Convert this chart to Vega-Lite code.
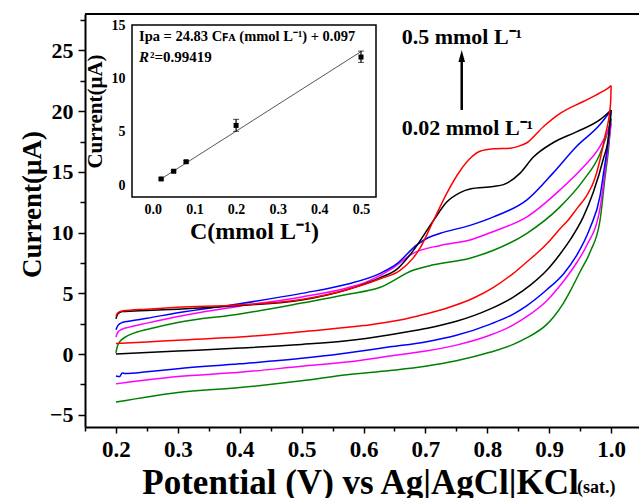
{
  "$schema": "https://vega.github.io/schema/vega-lite/v6.json",
  "width": 554,
  "height": 413,
  "autosize": {"type": "none"},
  "padding": {"left": 85, "top": 14, "right": 0, "bottom": 71},
  "background": "white",
  "config": {
    "font": "Liberation Serif",
    "view": {"stroke": null},
    "axis": {
      "labelFont": "Liberation Serif", "titleFont": "Liberation Serif",
      "labelFontWeight": "bold", "titleFontWeight": "bold",
      "labelColor": "black", "titleColor": "black", "tickColor": "black", "domainColor": "black",
      "grid": false, "labelFlush": false, "labelOverlap": false
    }
  },
  "datasets": {
    "cv": [
      {"s":"0.02","b":"f","E":0.2,"I":0.1},{"s":"0.02","b":"f","E":0.202,"I":0.6},{"s":"0.02","b":"f","E":0.206,"I":1.0},{"s":"0.02","b":"f","E":0.215,"I":1.4},{"s":"0.02","b":"f","E":0.23,"I":1.75},{"s":"0.02","b":"f","E":0.26,"I":2.15},{"s":"0.02","b":"f","E":0.3,"I":2.6},{"s":"0.02","b":"f","E":0.4,"I":3.3},{"s":"0.02","b":"f","E":0.5,"I":4.2},{"s":"0.02","b":"f","E":0.573,"I":4.9},{"s":"0.02","b":"f","E":0.627,"I":5.5},{"s":"0.02","b":"f","E":0.68,"I":6.9},{"s":"0.02","b":"f","E":0.713,"I":7.35},{"s":"0.02","b":"f","E":0.772,"I":7.9},{"s":"0.02","b":"f","E":0.81,"I":8.55},{"s":"0.02","b":"f","E":0.864,"I":9.95},{"s":"0.02","b":"f","E":0.917,"I":12.1},{"s":"0.02","b":"f","E":0.955,"I":14.3},{"s":"0.02","b":"f","E":0.982,"I":16.5},{"s":"0.02","b":"f","E":0.995,"I":18.4},{"s":"0.02","b":"f","E":1.0,"I":19.4},
      {"s":"0.02","b":"r","E":1.0,"I":19.4},{"s":"0.02","b":"r","E":0.996,"I":17.0},{"s":"0.02","b":"r","E":0.99,"I":14.5},{"s":"0.02","b":"r","E":0.982,"I":11.0},{"s":"0.02","b":"r","E":0.966,"I":8.4},{"s":"0.02","b":"r","E":0.95,"I":6.8},{"s":"0.02","b":"r","E":0.933,"I":5.1},{"s":"0.02","b":"r","E":0.923,"I":4.2},{"s":"0.02","b":"r","E":0.906,"I":3.0},{"s":"0.02","b":"r","E":0.896,"I":2.45},{"s":"0.02","b":"r","E":0.864,"I":1.35},{"s":"0.02","b":"r","E":0.842,"I":0.8},{"s":"0.02","b":"r","E":0.804,"I":0.15},{"s":"0.02","b":"r","E":0.75,"I":-0.55},{"s":"0.02","b":"r","E":0.7,"I":-1.0},{"s":"0.02","b":"r","E":0.643,"I":-1.35},{"s":"0.02","b":"r","E":0.573,"I":-1.7},{"s":"0.02","b":"r","E":0.5,"I":-2.2},{"s":"0.02","b":"r","E":0.4,"I":-2.75},{"s":"0.02","b":"r","E":0.3,"I":-3.15},{"s":"0.02","b":"r","E":0.2,"I":-3.95},

      {"s":"0.05","b":"f","E":0.2,"I":1.4},{"s":"0.05","b":"f","E":0.203,"I":1.8},{"s":"0.05","b":"f","E":0.21,"I":2.05},{"s":"0.05","b":"f","E":0.22,"I":2.2},{"s":"0.05","b":"f","E":0.25,"I":2.55},{"s":"0.05","b":"f","E":0.3,"I":3.1},{"s":"0.05","b":"f","E":0.4,"I":3.95},{"s":"0.05","b":"f","E":0.5,"I":4.7},{"s":"0.05","b":"f","E":0.573,"I":5.45},{"s":"0.05","b":"f","E":0.605,"I":5.95},{"s":"0.05","b":"f","E":0.648,"I":7.1},{"s":"0.05","b":"f","E":0.68,"I":8.3},{"s":"0.05","b":"f","E":0.724,"I":8.95},{"s":"0.05","b":"f","E":0.772,"I":9.4},{"s":"0.05","b":"f","E":0.81,"I":10.1},{"s":"0.05","b":"f","E":0.864,"I":11.3},{"s":"0.05","b":"f","E":0.917,"I":13.5},{"s":"0.05","b":"f","E":0.955,"I":15.4},{"s":"0.05","b":"f","E":0.982,"I":17.1},{"s":"0.05","b":"f","E":0.995,"I":18.4},{"s":"0.05","b":"f","E":1.0,"I":19.0},
      {"s":"0.05","b":"r","E":1.0,"I":19.0},{"s":"0.05","b":"r","E":0.995,"I":17.0},{"s":"0.05","b":"r","E":0.99,"I":15.0},{"s":"0.05","b":"r","E":0.982,"I":12.0},{"s":"0.05","b":"r","E":0.96,"I":8.9},{"s":"0.05","b":"r","E":0.944,"I":7.5},{"s":"0.05","b":"r","E":0.923,"I":6.0},{"s":"0.05","b":"r","E":0.896,"I":4.4},{"s":"0.05","b":"r","E":0.864,"I":3.1},{"s":"0.05","b":"r","E":0.842,"I":2.4},{"s":"0.05","b":"r","E":0.804,"I":1.55},{"s":"0.05","b":"r","E":0.75,"I":0.74},{"s":"0.05","b":"r","E":0.7,"I":0.25},{"s":"0.05","b":"r","E":0.643,"I":-0.16},{"s":"0.05","b":"r","E":0.573,"I":-0.65},{"s":"0.05","b":"r","E":0.5,"I":-1.0},{"s":"0.05","b":"r","E":0.4,"I":-1.5},{"s":"0.05","b":"r","E":0.3,"I":-1.85},{"s":"0.05","b":"r","E":0.2,"I":-2.45},

      {"s":"0.08","b":"f","E":0.2,"I":2.0},{"s":"0.08","b":"f","E":0.203,"I":2.35},{"s":"0.08","b":"f","E":0.21,"I":2.6},{"s":"0.08","b":"f","E":0.22,"I":2.7},{"s":"0.08","b":"f","E":0.25,"I":2.95},{"s":"0.08","b":"f","E":0.3,"I":3.4},{"s":"0.08","b":"f","E":0.4,"I":4.15},{"s":"0.08","b":"f","E":0.5,"I":5.0},{"s":"0.08","b":"f","E":0.573,"I":5.75},{"s":"0.08","b":"f","E":0.627,"I":6.65},{"s":"0.08","b":"f","E":0.653,"I":7.4},{"s":"0.08","b":"f","E":0.686,"I":9.0},{"s":"0.08","b":"f","E":0.705,"I":9.6},{"s":"0.08","b":"f","E":0.724,"I":9.95},{"s":"0.08","b":"f","E":0.772,"I":10.6},{"s":"0.08","b":"f","E":0.81,"I":11.3},{"s":"0.08","b":"f","E":0.864,"I":12.7},{"s":"0.08","b":"f","E":0.906,"I":14.9},{"s":"0.08","b":"f","E":0.944,"I":17.1},{"s":"0.08","b":"f","E":0.982,"I":18.9},{"s":"0.08","b":"f","E":1.0,"I":20.1},
      {"s":"0.08","b":"r","E":1.0,"I":20.1},{"s":"0.08","b":"r","E":0.995,"I":17.5},{"s":"0.08","b":"r","E":0.988,"I":15.0},{"s":"0.08","b":"r","E":0.982,"I":13.0},{"s":"0.08","b":"r","E":0.966,"I":10.4},{"s":"0.08","b":"r","E":0.944,"I":8.1},{"s":"0.08","b":"r","E":0.923,"I":6.6},{"s":"0.08","b":"r","E":0.896,"I":5.3},{"s":"0.08","b":"r","E":0.864,"I":4.0},{"s":"0.08","b":"r","E":0.842,"I":3.3},{"s":"0.08","b":"r","E":0.804,"I":2.45},{"s":"0.08","b":"r","E":0.75,"I":1.55},{"s":"0.08","b":"r","E":0.7,"I":1.0},{"s":"0.08","b":"r","E":0.643,"I":0.6},{"s":"0.08","b":"r","E":0.573,"I":0.1},{"s":"0.08","b":"r","E":0.5,"I":-0.35},{"s":"0.08","b":"r","E":0.4,"I":-0.8},{"s":"0.08","b":"r","E":0.3,"I":-1.2},{"s":"0.08","b":"r","E":0.25,"I":-1.45},{"s":"0.08","b":"r","E":0.215,"I":-1.6},{"s":"0.08","b":"r","E":0.21,"I":-1.55},{"s":"0.08","b":"r","E":0.206,"I":-1.85},{"s":"0.08","b":"r","E":0.2,"I":-1.8},

      {"s":"0.2","b":"f","E":0.2,"I":2.9},{"s":"0.2","b":"f","E":0.203,"I":3.3},{"s":"0.2","b":"f","E":0.21,"I":3.5},{"s":"0.2","b":"f","E":0.25,"I":3.6},{"s":"0.2","b":"f","E":0.3,"I":3.7},{"s":"0.2","b":"f","E":0.4,"I":4.0},{"s":"0.2","b":"f","E":0.5,"I":4.45},{"s":"0.2","b":"f","E":0.573,"I":5.3},{"s":"0.2","b":"f","E":0.627,"I":6.3},{"s":"0.2","b":"f","E":0.653,"I":6.95},{"s":"0.2","b":"f","E":0.68,"I":8.5},{"s":"0.2","b":"f","E":0.713,"I":11.0},{"s":"0.2","b":"f","E":0.734,"I":12.5},{"s":"0.2","b":"f","E":0.756,"I":13.3},{"s":"0.2","b":"f","E":0.772,"I":13.6},{"s":"0.2","b":"f","E":0.81,"I":13.8},{"s":"0.2","b":"f","E":0.826,"I":13.95},{"s":"0.2","b":"f","E":0.853,"I":14.9},{"s":"0.2","b":"f","E":0.874,"I":16.2},{"s":"0.2","b":"f","E":0.906,"I":17.4},{"s":"0.2","b":"f","E":0.944,"I":18.3},{"s":"0.2","b":"f","E":0.982,"I":19.3},{"s":"0.2","b":"f","E":1.0,"I":20.1},
      {"s":"0.2","b":"r","E":1.0,"I":20.1},{"s":"0.2","b":"r","E":0.996,"I":18.0},{"s":"0.2","b":"r","E":0.987,"I":16.0},{"s":"0.2","b":"r","E":0.971,"I":13.3},{"s":"0.2","b":"r","E":0.955,"I":11.3},{"s":"0.2","b":"r","E":0.935,"I":9.5},{"s":"0.2","b":"r","E":0.917,"I":8.2},{"s":"0.2","b":"r","E":0.896,"I":6.9},{"s":"0.2","b":"r","E":0.87,"I":5.7},{"s":"0.2","b":"r","E":0.842,"I":4.7},{"s":"0.2","b":"r","E":0.804,"I":3.7},{"s":"0.2","b":"r","E":0.75,"I":2.7},{"s":"0.2","b":"r","E":0.7,"I":2.1},{"s":"0.2","b":"r","E":0.643,"I":1.6},{"s":"0.2","b":"r","E":0.573,"I":1.1},{"s":"0.2","b":"r","E":0.5,"I":0.8},{"s":"0.2","b":"r","E":0.4,"I":0.5},{"s":"0.2","b":"r","E":0.3,"I":0.25},{"s":"0.2","b":"r","E":0.2,"I":0.0},

      {"s":"0.5","b":"f","E":0.2,"I":3.1},{"s":"0.5","b":"f","E":0.203,"I":3.4},{"s":"0.5","b":"f","E":0.21,"I":3.55},{"s":"0.5","b":"f","E":0.25,"I":3.7},{"s":"0.5","b":"f","E":0.3,"I":3.85},{"s":"0.5","b":"f","E":0.4,"I":4.05},{"s":"0.5","b":"f","E":0.5,"I":4.5},{"s":"0.5","b":"f","E":0.573,"I":5.3},{"s":"0.5","b":"f","E":0.627,"I":6.2},{"s":"0.5","b":"f","E":0.659,"I":6.9},{"s":"0.5","b":"f","E":0.68,"I":7.9},{"s":"0.5","b":"f","E":0.691,"I":8.7},{"s":"0.5","b":"f","E":0.713,"I":11.0},{"s":"0.5","b":"f","E":0.734,"I":13.2},{"s":"0.5","b":"f","E":0.756,"I":15.1},{"s":"0.5","b":"f","E":0.772,"I":16.1},{"s":"0.5","b":"f","E":0.788,"I":16.7},{"s":"0.5","b":"f","E":0.81,"I":16.9},{"s":"0.5","b":"f","E":0.837,"I":16.95},{"s":"0.5","b":"f","E":0.85,"I":17.1},{"s":"0.5","b":"f","E":0.864,"I":17.4},{"s":"0.5","b":"f","E":0.89,"I":18.7},{"s":"0.5","b":"f","E":0.917,"I":19.8},{"s":"0.5","b":"f","E":0.955,"I":20.8},{"s":"0.5","b":"f","E":0.982,"I":21.5},{"s":"0.5","b":"f","E":0.995,"I":21.9},{"s":"0.5","b":"f","E":1.0,"I":22.1},
      {"s":"0.5","b":"r","E":1.0,"I":22.1},{"s":"0.5","b":"r","E":0.999,"I":20.6},{"s":"0.5","b":"r","E":0.99,"I":17.9},{"s":"0.5","b":"r","E":0.982,"I":16.0},{"s":"0.5","b":"r","E":0.974,"I":14.5},{"s":"0.5","b":"r","E":0.96,"I":13.0},{"s":"0.5","b":"r","E":0.945,"I":12.0},{"s":"0.5","b":"r","E":0.93,"I":11.0},{"s":"0.5","b":"r","E":0.917,"I":10.3},{"s":"0.5","b":"r","E":0.9,"I":9.3},{"s":"0.5","b":"r","E":0.88,"I":8.3},{"s":"0.5","b":"r","E":0.864,"I":7.6},{"s":"0.5","b":"r","E":0.842,"I":6.65},{"s":"0.5","b":"r","E":0.81,"I":5.5},{"s":"0.5","b":"r","E":0.777,"I":4.6},{"s":"0.5","b":"r","E":0.735,"I":3.8},{"s":"0.5","b":"r","E":0.7,"I":3.3},{"s":"0.5","b":"r","E":0.659,"I":2.8},{"s":"0.5","b":"r","E":0.6,"I":2.35},{"s":"0.5","b":"r","E":0.5,"I":1.85},{"s":"0.5","b":"r","E":0.4,"I":1.4},{"s":"0.5","b":"r","E":0.3,"I":1.15},{"s":"0.5","b":"r","E":0.25,"I":1.0},{"s":"0.5","b":"r","E":0.2,"I":0.88}
    ],
    "cal": [
      {"c":0.02,"I":0.59,"lo":0.5,"hi":0.68},
      {"c":0.05,"I":1.31,"lo":1.22,"hi":1.4},
      {"c":0.08,"I":2.2,"lo":2.1,"hi":2.3},
      {"c":0.2,"I":5.6,"lo":5.05,"hi":6.17},
      {"c":0.5,"I":12.0,"lo":11.5,"hi":12.56}
    ],
    "fit": [
      {"c":0.02,"I":0.594},
      {"c":0.5,"I":12.512}
    ]
  },
  "layer": [
    {
      "layer": [
        {
          "data": {"name": "cv"},
          "mark": {"type": "line", "strokeWidth": 1.5, "interpolate": "monotone"},
          "encoding": {
            "x": {"field": "E", "type": "quantitative",
              "scale": {"domain": [0.15, 1.045], "nice": false, "zero": false},
              "axis": {"orient": "bottom", "values": [0.2,0.3,0.4,0.5,0.6,0.7,0.8,0.9,1.0], "format": ".1f",
                "domainWidth": 2, "tickSize": 6, "tickWidth": 1.5, "labelFontSize": 23, "labelPadding": 5,
                "title": "Potential (V) vs Ag|AgCl|KCl", "titleFontSize": 35, "titleBaseline": "alphabetic", "titleY": 66, "titleX": 275}},
            "y": {"field": "I", "type": "quantitative",
              "scale": {"domain": [-6, 28], "nice": false, "zero": false},
              "axis": {"orient": "left", "values": [-5,0,5,10,15,20,25],
                "domainWidth": 2, "tickSize": 7, "tickWidth": 1.5, "labelFontSize": 22, "labelPadding": 5,
                "title": "Current(μA)", "titleFontSize": 27, "titleAngle": 270, "titleBaseline": "middle", "titleX": -53, "titleY": 190}},
            "color": {"field": "s", "type": "nominal",
              "scale": {"domain": ["0.02","0.05","0.08","0.2","0.5"], "range": ["#008000","#FF00FF","#0000FF","#000000","#FF0000"]},
              "legend": null},
            "detail": {"field": "b"}
          }
        },
        {
          "data": {"values": [{}]},
          "mark": {"type": "point", "opacity": 0},
          "encoding": {
            "x": {"datum": 0.5, "type": "quantitative",
              "axis": {"orient": "bottom", "values": [0.15,0.25,0.35,0.45,0.55,0.65,0.75,0.85,0.95], "labels": false, "domain": false, "tickSize": 4, "tickWidth": 1.5, "title": null}},
            "y": {"datum": 5, "type": "quantitative",
              "axis": {"orient": "left", "values": [-2.5,2.5,7.5,12.5,17.5,22.5,27.5], "labels": false, "domain": false, "tickSize": 5, "tickWidth": 1.5, "title": null}}
          }
        },
        {
          "data": {"values": [{}]},
          "mark": {"type": "rule", "strokeWidth": 2, "color": "black"},
          "encoding": {"x": {"datum": 0.15, "axis": null}, "x2": {"datum": 1.045}, "y": {"datum": 28, "axis": null}}
        },
        {
          "data": {"values": [{}]},
          "mark": {"type": "rule", "strokeWidth": 2.5, "color": "black"},
          "encoding": {"x": {"datum": 0.7586, "axis": null}, "y": {"datum": 20.1, "axis": null}, "y2": {"datum": 24.3}}
        },
        {
          "data": {"values": [{}]},
          "mark": {"type": "point", "shape": "M0,-1L0.55,1L-0.55,1Z", "filled": true, "color": "black", "opacity": 1, "size": 144},
          "encoding": {"x": {"datum": 0.7586, "axis": null}, "y": {"datum": 24.55, "axis": null}}
        },
        {
          "data": {"values": [{}]},
          "mark": {"type": "text", "text": "0.5 mmol L⁻¹", "font": "Liberation Serif", "fontWeight": "bold", "fontSize": 22, "align": "left", "baseline": "alphabetic", "color": "black"},
          "encoding": {"x": {"datum": 0.6616, "axis": null}, "y": {"datum": 25.57, "axis": null}}
        },
        {
          "data": {"values": [{}]},
          "mark": {"type": "text", "text": "0.02 mmol L⁻¹", "font": "Liberation Serif", "fontWeight": "bold", "fontSize": 22, "align": "left", "baseline": "alphabetic", "color": "black"},
          "encoding": {"x": {"datum": 0.6616, "axis": null}, "y": {"datum": 18.02, "axis": null}}
        },
        {
          "data": {"values": [{}]},
          "mark": {"type": "text", "text": "(sat.)", "font": "Liberation Serif", "fontWeight": "bold", "fontSize": 18, "align": "left", "baseline": "alphabetic", "color": "black", "clip": false},
          "encoding": {"x": {"datum": 0.945, "axis": null}, "y": {"datum": -11.45, "axis": null}}
        }
      ],
      "resolve": {"axis": {"x": "independent", "y": "independent"}}
    },
    {
      "layer": [
        {
          "data": {"values": [{}]},
          "mark": {"type": "rect", "fill": "white", "stroke": "black", "strokeWidth": 1.5},
          "encoding": {
            "x": {"datum": -0.05, "type": "quantitative",
              "scale": {"domain": [-0.05, 0.536], "range": [47, 291], "nice": false, "zero": false},
              "axis": {"orient": "bottom", "offset": -230, "values": [0,0.1,0.2,0.3,0.4,0.5], "format": ".1f",
                "domain": false, "ticks": false, "labelFontSize": 14, "labelPadding": 5,
                "title": "C(mmol L⁻¹)", "titleFontSize": 24, "titlePadding": 3}},
            "x2": {"datum": 0.536},
            "y": {"datum": -1.1, "type": "quantitative",
              "scale": {"domain": [-1.1, 15], "range": [183, 11], "nice": false, "zero": false},
              "axis": {"orient": "left", "offset": -47, "values": [0,5,10,15],
                "domain": false, "ticks": false, "labelFontSize": 14, "labelPadding": 7,
                "title": "Current(μA)", "titleFontSize": 21, "titlePadding": 6}},
            "y2": {"datum": 15}
          }
        },
        {
          "data": {"name": "fit"},
          "mark": {"type": "line", "color": "#444444", "strokeWidth": 0.9},
          "encoding": {"x": {"field": "c", "type": "quantitative", "title": "C(mmol L⁻¹)"}, "y": {"field": "I", "type": "quantitative", "title": "Current(μA)"}}
        },
        {
          "data": {"name": "cal"},
          "mark": {"type": "errorbar", "ticks": {"size": 6, "color": "black", "strokeWidth": 1.2}, "rule": {"color": "black", "strokeWidth": 1.2}},
          "encoding": {"x": {"field": "c", "type": "quantitative", "title": "C(mmol L⁻¹)"}, "y": {"field": "lo", "type": "quantitative", "title": "Current(μA)"}, "y2": {"field": "hi"}}
        },
        {
          "data": {"name": "cal"},
          "mark": {"type": "square", "filled": true, "color": "black", "opacity": 1, "size": 25},
          "encoding": {"x": {"field": "c", "type": "quantitative", "title": "C(mmol L⁻¹)"}, "y": {"field": "I", "type": "quantitative", "title": "Current(μA)"}}
        },
        {
          "data": {"values": [{}]},
          "mark": {"type": "text", "text": "Ipa = 24.83 Cꜰᴀ (mmol L⁻¹) + 0.097", "font": "Liberation Serif", "fontWeight": "bold", "fontSize": 14.5, "align": "left", "baseline": "alphabetic", "color": "black"},
          "encoding": {"x": {"datum": -0.0332}, "y": {"datum": 13.5}}
        },
        {
          "data": {"values": [{}]},
          "mark": {"type": "text", "text": "R", "font": "Liberation Serif", "fontWeight": "bold", "fontStyle": "italic", "fontSize": 15, "align": "left", "baseline": "alphabetic", "color": "black"},
          "encoding": {"x": {"datum": -0.0332}, "y": {"datum": 11.57}}
        },
        {
          "data": {"values": [{}]},
          "mark": {"type": "text", "text": "²=0.99419", "font": "Liberation Serif", "fontWeight": "bold", "fontSize": 15, "align": "left", "baseline": "alphabetic", "color": "black", "dx": 11},
          "encoding": {"x": {"datum": -0.0332}, "y": {"datum": 11.57}}
        }
      ]
    }
  ],
  "resolve": {"scale": {"x": "independent", "y": "independent"}, "axis": {"x": "independent", "y": "independent"}}
}
